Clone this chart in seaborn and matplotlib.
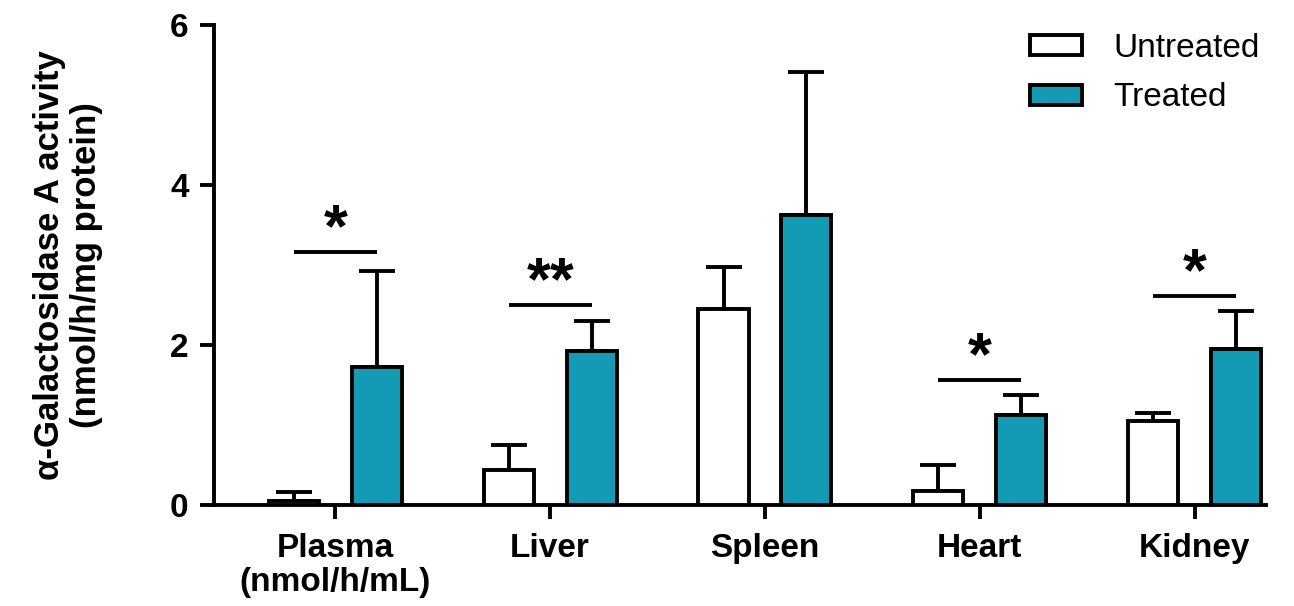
import numpy as np
import pandas as pd
import seaborn as sns
import matplotlib
matplotlib.use("Agg")
import matplotlib.pyplot as plt
from matplotlib.patches import Patch

# ---- data ----
tissues = ["Plasma\n(nmol/h/mL)", "Liver", "Spleen", "Heart", "Kidney"]
groups = ["Untreated", "Treated"]
untreated_mean = [0.05, 0.43, 2.45, 0.17, 1.05]
untreated_err = [0.11, 0.32, 0.52, 0.33, 0.10]
treated_mean = [1.72, 1.92, 3.62, 1.12, 1.95]
treated_err = [1.20, 0.38, 1.79, 0.25, 0.47]
# significance annotations: (tissue index, bar level, label)
sig_idx = [0, 1, 3, 4]
sig_level = [3.16, 2.50, 1.56, 2.61]
sig_text = ["*", "**", "*", "*"]

teal = "#139AB5"
LW = 2.8

sns.set_theme(style="ticks")
plt.rcParams["font.family"] = ["Liberation Sans", "DejaVu Sans"]
plt.rcParams["text.color"] = "black"
plt.rcParams["axes.labelcolor"] = "black"
plt.rcParams["xtick.color"] = "black"
plt.rcParams["ytick.color"] = "black"

df = pd.DataFrame({
    "tissue": tissues * 2,
    "group": [groups[0]] * len(tissues) + [groups[1]] * len(tissues),
    "value": untreated_mean + treated_mean,
})

fig = plt.figure(figsize=(12.94, 6.06), dpi=100)
ax = fig.add_axes([0.165, 0.167, 0.813, 0.792])

sns.barplot(data=df, x="tissue", y="value", hue="group", order=tissues,
            hue_order=groups, palette=["white", teal], width=0.772, gap=0.396,
            edgecolor="black", linewidth=LW, errorbar=None, legend=False,
            saturation=1, ax=ax, zorder=3)

errs = [untreated_err, treated_err]
for cont, err in zip(ax.containers, errs):
    xs = [b.get_x() + b.get_width() / 2 for b in cont]
    hs = [b.get_height() for b in cont]
    ax.errorbar(xs, hs, yerr=[np.zeros(len(err)), err], fmt="none",
                ecolor="black", elinewidth=LW, capsize=13, capthick=LW,
                zorder=2)

# significance lines
ux = [b.get_x() + b.get_width() / 2 for b in ax.containers[0]]
tx = [b.get_x() + b.get_width() / 2 for b in ax.containers[1]]
for i, lvl, txt in zip(sig_idx, sig_level, sig_text):
    ax.plot([ux[i], tx[i]], [lvl, lvl], color="black", lw=LW,
            solid_capstyle="butt", zorder=4)
    ax.text((ux[i] + tx[i]) / 2, lvl + 0.27, txt, ha="center", va="center",
            fontsize=44, fontweight="bold", color="black")

ax.set_ylim(0, 6)
ax.set_xlim(-0.567, 4.33)
ax.set_yticks([0, 2, 4, 6])
ax.set_xlabel("")
ax.set_ylabel("α-Galactosidase A activity\n(nmol/h/mg protein)",
              fontsize=25, fontweight="bold", labelpad=48, linespacing=1.15)
ax.tick_params(axis="both", width=LW, length=10, color="black",
               labelsize=24, pad=8)
ax.tick_params(axis="x", pad=10)
for lab in ax.get_yticklabels():
    lab.set_fontweight("bold")
ax.set_xticks(range(len(tissues)))
ax.set_xticklabels(tissues, fontweight="bold", fontsize=24, linespacing=1.15)
for s in ["top", "right"]:
    ax.spines[s].set_visible(False)
for s in ["left", "bottom"]:
    ax.spines[s].set_linewidth(LW)
    ax.spines[s].set_color("black")

handles = [Patch(facecolor="white", edgecolor="black", linewidth=LW),
           Patch(facecolor=teal, edgecolor="black", linewidth=LW)]
fig.legend(handles, groups, loc="upper left", bbox_to_anchor=(0.773, 0.995),
           frameon=False, fontsize=24, handlelength=1.55, handleheight=0.55,
           handletextpad=0.95, labelspacing=0.55)

fig.savefig("out.png", dpi=100)
